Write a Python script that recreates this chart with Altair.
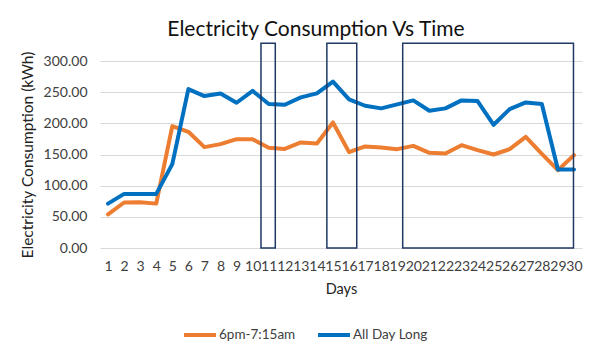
import altair as alt
import pandas as pd

days = list(range(1, 31))
night = [54, 73, 73.4, 71.2, 195.5, 186.4, 161.8, 166.6, 174.6, 174.6,
         160.7, 159, 169.3, 167.7, 201.4, 153.8, 162.9, 161.2, 158.6, 163.9,
         152.7, 151.6, 165, 157, 150, 158.6, 178.4, 151, 124.8, 149]
allday = [71.2, 86.8, 86.8, 86.8, 134.5, 255, 243.7, 248, 233, 252,
          231, 229.8, 241.6, 248, 266.8, 238.4, 228.2, 224, 230.4, 236.8,
          220.2, 224, 236.8, 235.7, 197.7, 222.9, 233.6, 231, 125.9, 125.9]
series_names = ["6pm-7:15am", "All Day Long"]
series_colors = ["#ED7D31", "#0070C0"]
y_ticks = [0, 50, 100, 150, 200, 250, 300]

box_start = [10.52, 14.62, 19.34]
box_end = [11.41, 16.48, 29.97]
box_low = [0, 0, 0]
box_high = [328.5, 328.5, 328.5]

rows = []
for d, a, b in zip(days, night, allday):
    rows.append({"Day": d, "Series": series_names[0], "Value": a})
    rows.append({"Day": d, "Series": series_names[1], "Value": b})
df = pd.DataFrame(rows)
boxes = pd.DataFrame({"Day": box_start, "x2": box_end, "Value": box_low, "y2": box_high})

FONT = "Lato"

xscale = alt.Scale(domain=[0.5, 30.5], nice=False, zero=False)
yscale = alt.Scale(domain=[0, 300], nice=False)

xaxis = alt.Axis(values=days, format="d", title="Days", grid=False, domain=False,
                 ticks=False, labelPadding=11, titlePadding=9,
                 labelFontSize=14, titleFontSize=14.5, labelColor="#404040",
                 titleColor="#222", labelFont=FONT, titleFont=FONT,
                 titleFontWeight="normal", labelFlush=False, labelOverlap=False)
yaxis = alt.Axis(values=y_ticks, format=".2f",
                 title="Electricity Consumption (kWh)", domain=False, ticks=False,
                 gridColor="#D9D9D9", gridWidth=1, labelPadding=13, titlePadding=8,
                 labelFontSize=14, titleFontSize=15.5, labelColor="#404040",
                 titleColor="#222", labelFont=FONT, titleFont=FONT,
                 titleFontWeight="normal", labelOverlap=False)

lines = alt.Chart(df).mark_line(strokeWidth=4, strokeJoin="round", strokeCap="round").encode(
    x=alt.X("Day:Q", scale=xscale, axis=xaxis),
    y=alt.Y("Value:Q", scale=yscale, axis=yaxis),
    color=alt.Color("Series:N", scale=alt.Scale(domain=series_names, range=series_colors),
                    legend=alt.Legend(title=None, orient="none", direction="horizontal",
                                      legendX=82, legendY=256, symbolType="stroke",
                                      symbolSize=1024, symbolStrokeWidth=4,
                                      labelFontSize=13.5, labelFont=FONT, labelColor="#404040",
                                      labelOffset=1, columnPadding=14)),
    detail="Series:N",
)

rects = alt.Chart(boxes).mark_rect(fill=None, stroke="#1F3864", strokeWidth=1.5, clip=False).encode(
    x=alt.X("Day:Q", scale=xscale, axis=xaxis),
    x2="x2:Q",
    y=alt.Y("Value:Q", scale=yscale, axis=yaxis),
    y2="y2:Q",
)

chart = alt.layer(lines, rects).properties(
    width=482, height=187,
    title=alt.TitleParams("Electricity Consumption Vs Time", fontSize=21, font=FONT,
                          fontWeight="normal", color="#111", anchor="middle", dx=-25, offset=2),
    autosize=alt.AutoSizeParams(type="none"),
    padding={"left": 92, "top": 53, "right": 10, "bottom": 103},
).configure_view(stroke=None)

chart.save("out.html", embed_options={"renderer": "svg", "actions": False})
